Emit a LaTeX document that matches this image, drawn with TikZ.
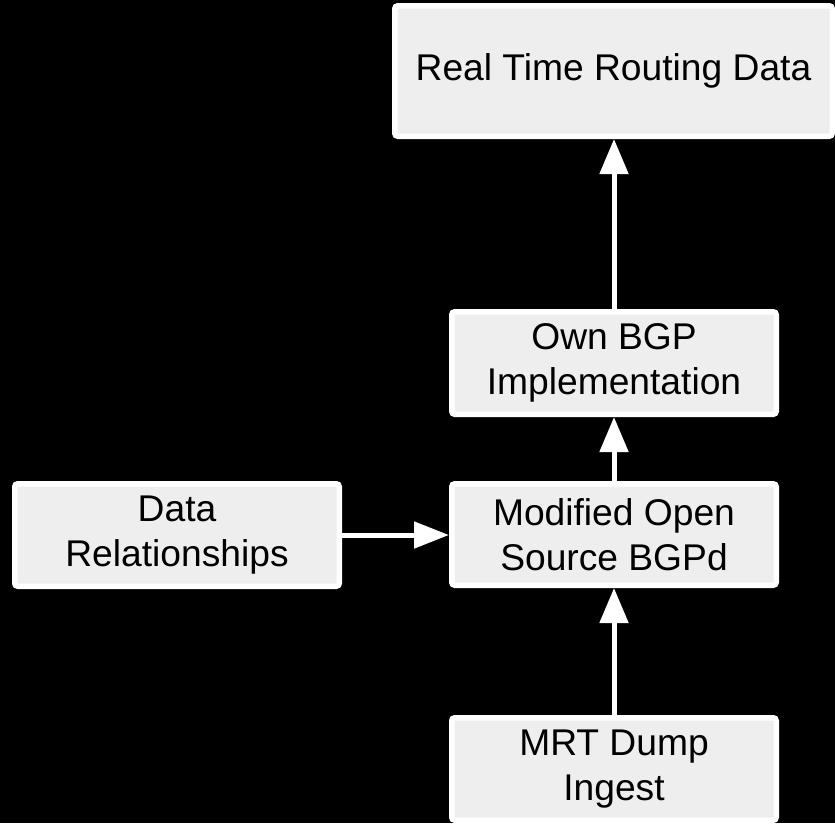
\documentclass[tikz,border=0pt]{standalone}
\usepackage{fontspec}
\setmainfont{Liberation Sans}
\usetikzlibrary{arrows.meta}
\definecolor{boxfill}{HTML}{EEEEEE}
\tikzset{
  box/.style={draw=white, fill=boxfill, line width=5.5pt, rounded corners=3pt,
    align=center, text=black, inner sep=0pt,
    font=\fontsize{37.2}{44.5}\selectfont},
  conn/.style={draw=white, line width=5pt, -{Triangle[length=35pt,width=28pt]}},
  hconn/.style={draw=white, line width=5pt, -{Triangle[length=35pt,width=26pt]}}
}
\begin{document}
\begin{tikzpicture}[x=1pt,y=-1pt]
\fill[black] (0,0) rectangle (835,823);
\useasboundingbox (0,0) rectangle (835,823);
\node[box, minimum width=437.5pt, minimum height=130.5pt] (rt) at (613.5,71) {Real Time Routing Data};
\node[box, minimum width=324.5pt, minimum height=102.5pt] (own) at (614,363) {Own BGP\\Implementation};
\node[box, minimum width=324.5pt, minimum height=101.5pt] (mod) at (614,534.5) {Modified Open\\Source BGPd};
\node[box, minimum width=324.5pt, minimum height=102.5pt] (dr) at (177,535) {Data\\Relationships};
\node[box, minimum width=324.5pt, minimum height=102.5pt] (mrt) at (614,769) {MRT Dump\\Ingest};
\draw[conn] (own.north) -- (own.north |- rt.south);
\draw[conn] (mod.north) -- (own.south);
\draw[conn] (mrt.north) -- (mod.south);
\draw[hconn] (dr.east) -- (dr.east -| mod.west);
\end{tikzpicture}
\end{document}
